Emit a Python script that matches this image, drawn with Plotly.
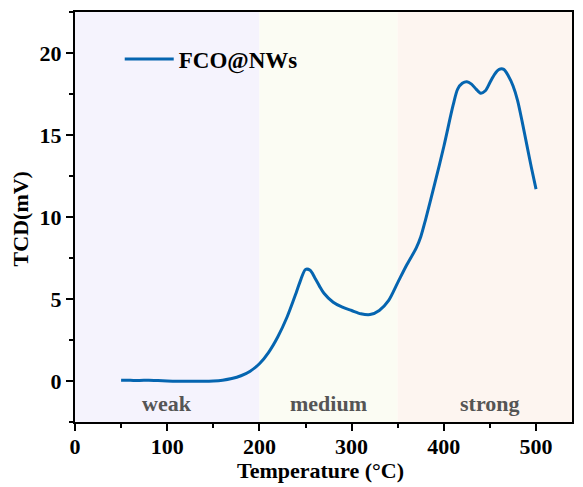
import plotly.graph_objects as go

# ---- data ----
temperature = [50, 60, 70, 80, 90, 100, 110, 120, 130, 140, 150, 160, 170, 180, 190,
               200, 210, 220, 230, 240, 245, 250, 255, 260, 265, 270, 280, 290, 300,
               310, 320, 330, 340, 350, 360, 370, 375, 380, 390, 400, 410, 415, 420,
               425, 430, 435, 440, 445, 450, 455, 460, 465, 470, 475, 480, 485, 490,
               495, 500]
tcd = [0.05, 0.04, 0.03, 0.05, 0.03, 0.0, -0.02, -0.02, -0.02, -0.02, 0.0, 0.05, 0.15,
       0.32, 0.6, 1.05, 1.75, 2.7, 3.9, 5.4, 6.2, 6.8, 6.75, 6.3, 5.8, 5.35, 4.8, 4.5,
       4.3, 4.1, 4.05, 4.3, 4.9, 6.0, 7.1, 8.1, 8.8, 9.8, 12.0, 14.3, 16.8, 17.8, 18.15,
       18.25, 18.1, 17.8, 17.55, 17.7, 18.2, 18.7, 19.0, 19.0, 18.6, 18.0, 17.1, 15.8,
       14.4, 13.0, 11.7]

x_max = 539
regions = ["weak", "medium", "strong"]
region_start = [0, 200, 350]
region_end = [200, 350, x_max]
region_colors = ["rgb(245,243,253)", "rgb(251,252,243)", "rgb(253,245,240)"]
region_label_x = [100, 275, 450]
region_label_y = -1.4

x_ticks = [0, 100, 200, 300, 400, 500]
y_ticks = [0, 5, 10, 15, 20]

FONT = "Liberation Serif"

fig = go.Figure()

for s, e, c in zip(region_start, region_end, region_colors):
    fig.add_vrect(x0=s, x1=e, fillcolor=c, opacity=1, line_width=0, layer="below")

fig.add_trace(go.Scatter(
    x=temperature, y=tcd, mode="lines", name="FCO@NWs",
    line=dict(color="#0565B0", width=3, shape="spline", smoothing=0.8),
))

for lab, lx in zip(regions, region_label_x):
    fig.add_annotation(x=lx, y=region_label_y, text=lab, showarrow=False,
                       font=dict(family=FONT, size=22, color="#555555", weight="bold"))

axis_common = dict(
    showline=True, linecolor="black", linewidth=2, mirror=True,
    ticks="outside", tickcolor="black", tickwidth=2, ticklen=7,
    showgrid=False, zeroline=False,
    tickfont=dict(family=FONT, size=22, color="black", weight="bold"),
)

fig.update_xaxes(range=[0, x_max], tickvals=x_ticks, ticklabelstandoff=-3,
                 minor=dict(dtick=50, tick0=0, ticks="outside", ticklen=4,
                            tickwidth=2, tickcolor="black"),
                 **axis_common)
fig.update_yaxes(range=[-2.5, 22.5], tickvals=y_ticks,
                 minor=dict(dtick=2.5, tick0=0, ticks="outside", ticklen=4,
                            tickwidth=2, tickcolor="black"),
                 **axis_common)

fig.add_annotation(xref="paper", yref="paper", x=0.493, y=-0.1195,
                   xanchor="center", yanchor="middle",
                   text="Temperature (°C)", showarrow=False,
                   font=dict(family=FONT, size=22, color="black", weight="bold"))
fig.add_annotation(xref="paper", yref="paper", x=-0.110, y=0.495,
                   xanchor="center", yanchor="middle",
                   text="TCD(mV)", showarrow=False, textangle=-90,
                   font=dict(family=FONT, size=22, color="black", weight="bold"))

# the page body offsets the figure by 8px, so the figure is sized to stay visible
fig.update_layout(
    width=567, height=479,
    margin=dict(l=67, r=1, t=4, b=65),
    paper_bgcolor="white", plot_bgcolor="white",
    showlegend=True,
    legend=dict(x=0.09, y=0.885, xanchor="left", yanchor="middle",
                itemwidth=49,
                bgcolor="rgba(0,0,0,0)",
                font=dict(family=FONT, size=23, color="black", weight="bold")),
)

fig.write_html("out.html")
